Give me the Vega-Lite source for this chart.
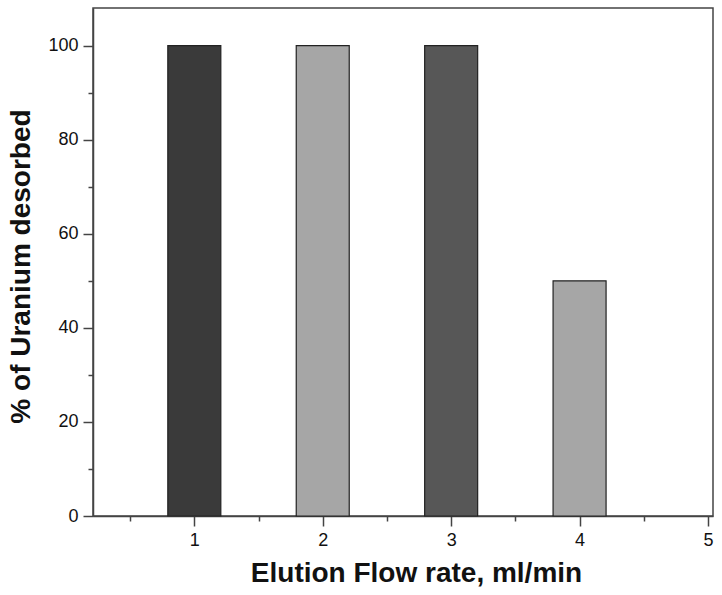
{
  "$schema": "https://vega.github.io/schema/vega-lite/v6.json",
  "width": 620,
  "height": 508,
  "autosize": "none",
  "padding": {"left": 93, "top": 8, "right": 9, "bottom": 79},
  "background": "white",
  "config": {
    "view": {"stroke": "#444444", "strokeWidth": 1.5},
    "axis": {
      "grid": false,
      "domainColor": "#444444",
      "domainWidth": 1.5,
      "tickColor": "#444444",
      "tickWidth": 1.5,
      "tickSize": 10,
      "labelFont": "Liberation Sans",
      "labelFontSize": 18,
      "labelColor": "#111111",
      "titleFont": "Liberation Sans",
      "titleFontSize": 28,
      "titleFontWeight": "bold",
      "titleColor": "#111111"
    }
  },
  "data": {
    "values": [
      {"flow": 1, "pct": 100},
      {"flow": 2, "pct": 100},
      {"flow": 3, "pct": 100},
      {"flow": 4, "pct": 50}
    ]
  },
  "layer": [
    {
      "mark": {"type": "bar", "width": 53, "stroke": "#222222", "strokeWidth": 1.2},
      "encoding": {
        "x": {
          "field": "flow", "type": "quantitative",
          "scale": {"domain": [0.25, 5], "nice": false, "zero": false},
          "axis": {"values": [1, 2, 3, 4, 5], "title": "Elution Flow rate, ml/min", "labelPadding": 5, "titlePadding": 10, "titleX": 323}
        },
        "y": {
          "field": "pct", "type": "quantitative",
          "scale": {"domain": [0, 108], "nice": false},
          "axis": {"values": [0, 20, 40, 60, 80, 100], "title": "% of Uranium desorbed", "labelPadding": 5, "titlePadding": 12, "titleY": 258}
        },
        "color": {
          "field": "flow", "type": "nominal",
          "scale": {"domain": [1, 2, 3, 4], "range": ["#3a3a3a", "#a6a6a6", "#575757", "#a6a6a6"]},
          "legend": null
        }
      }
    },
    {
      "mark": {"type": "bar", "width": 53, "opacity": 0},
      "encoding": {
        "x": {
          "field": "flow", "type": "quantitative",
          "scale": {"domain": [0.25, 5], "nice": false, "zero": false},
          "axis": {"values": [0.5, 1.5, 2.5, 3.5, 4.5], "labels": false, "title": null, "tickSize": 5, "domain": false, "orient": "bottom"}
        },
        "y": {
          "field": "pct", "type": "quantitative",
          "scale": {"domain": [0, 108], "nice": false},
          "axis": {"values": [10, 30, 50, 70, 90], "labels": false, "title": null, "tickSize": 5, "domain": false, "orient": "left"}
        }
      }
    }
  ],
  "resolve": {"axis": {"x": "independent", "y": "independent"}}
}
